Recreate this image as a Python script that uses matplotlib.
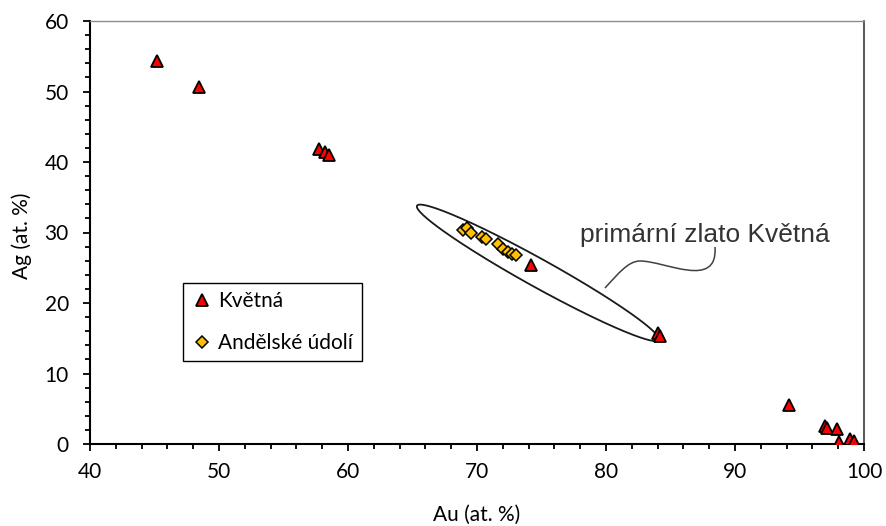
import numpy as np
import matplotlib
matplotlib.use("Agg")
import matplotlib.pyplot as plt
from matplotlib.path import Path
from matplotlib.patches import PathPatch
from matplotlib.ticker import MultipleLocator

# ---- data ----
kvetna_au = [45.2, 48.45, 57.75, 58.2, 58.55, 74.2, 84.0, 84.2, 94.2, 97.0, 97.15, 97.9, 98.1, 98.9, 99.2]
kvetna_ag = [54.3, 50.6, 41.9, 41.4, 41.0, 25.4, 15.7, 15.3, 5.5, 2.55, 2.3, 2.1, 0.3, 0.7, 0.45]
andel_au = [68.9, 69.2, 69.5, 70.4, 70.7, 71.6, 72.0, 72.4, 72.7, 73.0]
andel_ag = [30.4, 30.7, 29.9, 29.3, 29.1, 28.3, 27.7, 27.2, 26.9, 26.8]
series_labels = ["Květná", "Andělské údolí"]
x_label = "Au (at. %)"
y_label = "Ag (at. %)"
annot_text = "primární zlato Květná"

# annotation geometry (data coords)
ell_tip_left = (65.35, 33.8)
ell_tip_right = (84.1, 14.75)
ell_half_width_px = 14
leader_pts = [(79.92, 22.13), (80.93, 24.11), (81.71, 25.96), (82.64, 25.96),
              (84.57, 25.96), (88.68, 21.84), (88.45, 27.94)]

FONT = "Lato"
plt.rcParams['font.family'] = [FONT, 'DejaVu Sans']

W, H = 886, 526
fig = plt.figure(figsize=(W / 100, H / 100), dpi=100)
L, R, T, B = 90, 864, 21, 444
ax = fig.add_axes([L / W, 1 - B / H, (R - L) / W, (B - T) / H])

ax.set_xlim(40, 100)
ax.set_ylim(0, 60)
ax.xaxis.set_major_locator(MultipleLocator(10))
ax.xaxis.set_minor_locator(MultipleLocator(2))
ax.yaxis.set_major_locator(MultipleLocator(10))
ax.yaxis.set_minor_locator(MultipleLocator(2))

ax.tick_params(axis='both', which='major', direction='out', length=5.2, width=1.3,
               labelsize=15, colors='black')
ax.tick_params(axis='both', which='minor', direction='out', length=3.8, width=1.3)
ax.tick_params(axis='x', which='major', pad=8)
ax.tick_params(axis='y', which='major', pad=10)
ax.tick_params(top=False, right=False, which='both')

for s in ['left', 'bottom']:
    ax.spines[s].set_linewidth(1.5)
    ax.spines[s].set_color('black')
ax.spines['top'].set_color('#8c8c8c')
ax.spines['top'].set_linewidth(1.0)
ax.spines['right'].set_color('#3a3a3a')
ax.spines['right'].set_linewidth(1.2)

# ellipse computed in pixel space, then mapped back to data
p1 = ax.transData.transform(ell_tip_left)
p2 = ax.transData.transform(ell_tip_right)
c = (p1 + p2) / 2
d = p2 - p1
a = np.hypot(*d) / 2
u = d / (2 * a)
n = np.array([-u[1], u[0]])
t = np.linspace(0, 2 * np.pi, 400)
pts = c + np.outer(a * np.cos(t), u) + np.outer(ell_half_width_px * np.sin(t), n)
ell_data = ax.transData.inverted().transform(pts)
ax.plot(ell_data[:, 0], ell_data[:, 1], color='#1a1a1a', lw=1.3, zorder=2)

# leader
codes = [Path.MOVETO] + [Path.CURVE4] * 6
ax.add_patch(PathPatch(Path(leader_pts, codes), facecolor='none',
                       edgecolor='#404040', lw=1.1, zorder=2))

ax.plot(kvetna_au, kvetna_ag, linestyle='none', marker='^', markersize=9,
        markerfacecolor='#ff0000', markeredgecolor='black', markeredgewidth=1.3,
        label=series_labels[0], zorder=3)
ax.plot(andel_au, andel_ag, linestyle='none', marker='D', markersize=6.2,
        markerfacecolor='#ffc000', markeredgecolor='black', markeredgewidth=1.1,
        label=series_labels[1], zorder=4)

ax.text(77.95, 28.65, annot_text, fontsize=19, family=['Liberation Sans'],
        color='#333333', ha='left', va='baseline')

leg = ax.legend(loc='upper left', bbox_to_anchor=(0.120, 0.381), fontsize=15,
                frameon=True, fancybox=False, framealpha=1, edgecolor='black',
                borderpad=0.4, handlelength=1.0, handletextpad=0.3,
                labelspacing=1.05, borderaxespad=0)
leg.get_frame().set_linewidth(1.0)

fig.text(477 / W, 5 / H, x_label, fontsize=15, ha='center', va='baseline')
fig.text(22 / W, 1 - 236 / H, y_label, fontsize=15, ha='center', va='center',
         rotation=90)

fig.savefig("out.png", dpi=100)
